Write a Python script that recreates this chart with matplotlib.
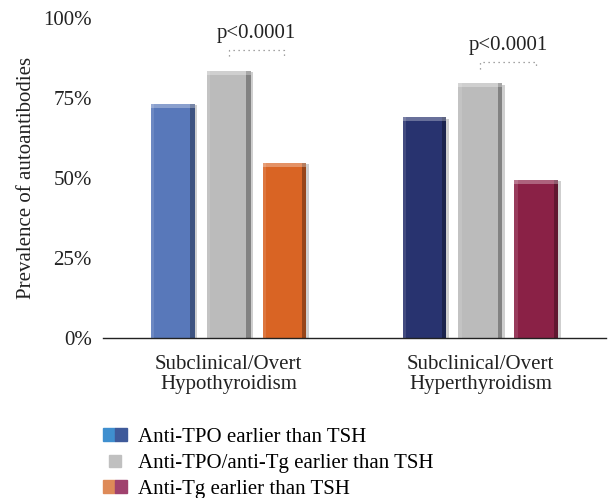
import numpy as np
import matplotlib.pyplot as plt
import matplotlib.patheffects as pe
from matplotlib.patches import Patch
from matplotlib.lines import Line2D
from matplotlib.legend_handler import HandlerTuple

plt.rcParams['font.family'] = ['Liberation Serif', 'DejaVu Serif']

# data (percent)
groups = ['Subclinical/Overt\nHypothyroidism', 'Subclinical/Overt\nHyperthyroidism']
anti_tpo = [73.1, 69.0]
anti_tpo_tg = [83.5, 79.6]
anti_tg = [54.8, 49.4]
p_labels = ['p<0.0001', 'p<0.0001']

tpo_colors = ['#5878BA', '#28336F']
both_colors = ['#BBBBBB', '#BBBBBB']
tg_colors = ['#D96424', '#8A2146']

fig = plt.figure(figsize=(6.08, 4.98), dpi=100)
ax = fig.add_axes([0.169, 0.321, 0.828, 0.643])

x = np.arange(len(groups))
w = 0.174
d = 0.222
shadow = [pe.SimplePatchShadow(offset=(2, -1), shadow_rgbFace='#777777', alpha=0.35), pe.Normal()]

for off, vals, cols in [(-d, anti_tpo, tpo_colors), (0, anti_tpo_tg, both_colors), (d, anti_tg, tg_colors)]:
    bars = ax.bar(x + off, vals, w, color=cols, edgecolor='none', zorder=2)
    for b in bars:
        b.set_path_effects(shadow)
    # bevel: darker right edge, lighter left edge and top
    ax.bar(x + off + w * 0.45, vals, w * 0.1, color='black', alpha=0.3, edgecolor='none', zorder=3)
    ax.bar(x + off - w * 0.46, vals, w * 0.08, color='white', alpha=0.12, edgecolor='none', zorder=3)
    ax.bar(x + off, 1.2, w, bottom=np.array(vals) - 1.2, color='white', alpha=0.3, edgecolor='none', zorder=3)

# significance brackets between the grey and the third bar
for i in range(len(groups)):
    yb = anti_tpo_tg[i] + 6.5
    x0, x1 = x[i], x[i] + d
    ax.plot([x0, x0, x1, x1], [yb - 2, yb, yb, yb - 2], ls=(0, (1, 3)), color='#888888', lw=0.9, zorder=4)
    ax.text((x0 + x1) / 2, yb + 2.3, p_labels[i], ha='center', va='bottom', fontsize=15, color='#222222')

ax.set_xlim(-0.5, 1.5)
ax.set_ylim(0, 100)
ax.set_yticks([0, 25, 50, 75, 100])
ax.set_yticklabels(['0%', '25%', '50%', '75%', '100%'], fontsize=15, color='#222222')
ax.set_xticks(x)
ax.set_xticklabels(groups, fontsize=15, color='#222222', linespacing=1.05)
ax.tick_params(axis='y', length=0, pad=8)
ax.tick_params(axis='x', length=0, pad=12)
ax.set_ylabel('Prevalence of autoantibodies', fontsize=15, color='#222222', labelpad=5)
for s in ['top', 'right', 'left']:
    ax.spines[s].set_visible(False)
ax.spines['bottom'].set_color('#222222')
ax.spines['bottom'].set_linewidth(1.0)

h1 = (Patch(color='#3F8FCF'), Patch(color='#3F5A9A'))
h2 = Line2D([], [], marker='s', color='#C0C0C0', ls='none', markersize=9)
h3 = (Patch(color='#DE8A58'), Patch(color='#A0426E'))
fig.legend([h1, h2, h3],
           ['Anti-TPO earlier than TSH', 'Anti-TPO/anti-Tg earlier than TSH', 'Anti-Tg earlier than TSH'],
           handler_map={tuple: HandlerTuple(ndivide=None, pad=0)},
           loc='lower left', bbox_to_anchor=(0.155, -0.019), borderaxespad=0, frameon=False, fontsize=15,
           handlelength=1.15, handleheight=0.6, handletextpad=0.55, labelspacing=0.35)

fig.savefig('out.png', dpi=100)
